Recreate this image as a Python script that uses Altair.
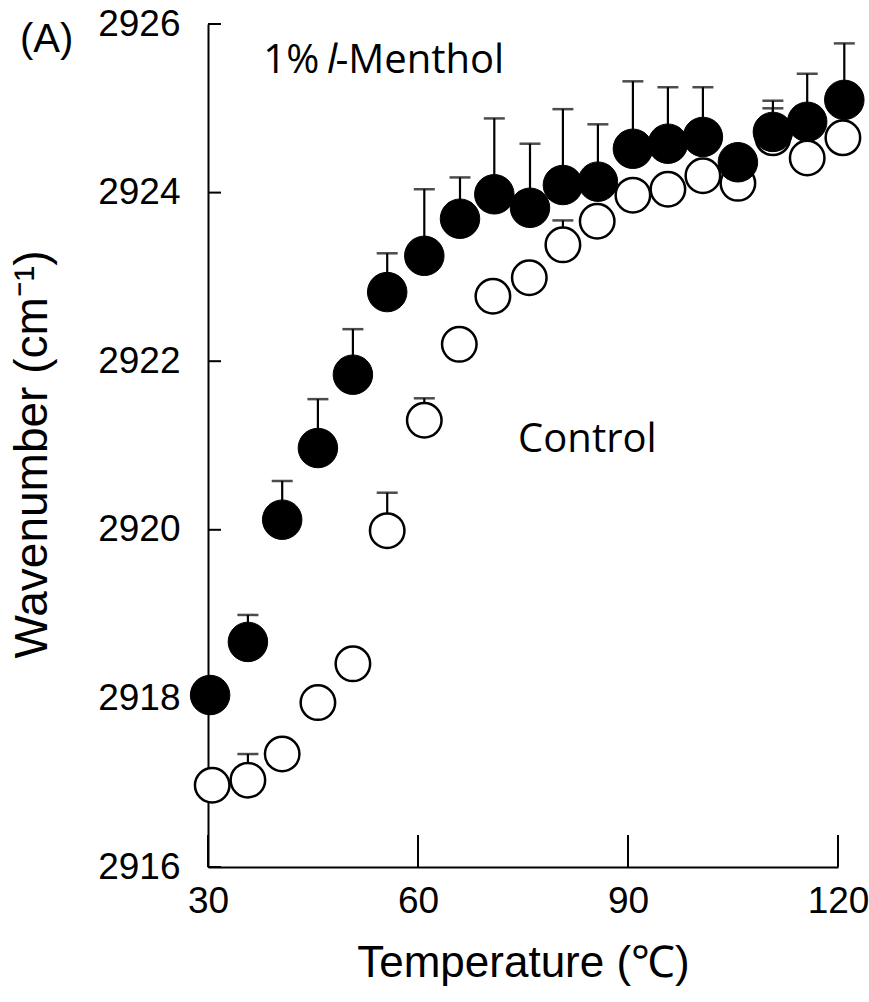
import altair as alt
import pandas as pd

# ---- data ----
temp_menthol = [30.3, 35.7, 40.6, 45.7, 50.7, 55.6, 60.9, 66.0, 70.9, 76.0,
                80.7, 85.7, 90.7, 95.7, 100.7, 105.7, 110.7, 115.6, 120.9]
menthol = [2918.04, 2918.67, 2920.12, 2920.97, 2921.84, 2922.82, 2923.25, 2923.69,
           2923.98, 2923.82, 2924.09, 2924.13, 2924.52, 2924.58, 2924.66, 2924.36,
           2924.72, 2924.84, 2925.10]
menthol_sd = [0.12, 0.32, 0.46, 0.58, 0.54, 0.46, 0.79, 0.49, 0.90, 0.76,
              0.90, 0.68, 0.80, 0.67, 0.59, 0.12, 0.37, 0.57, 0.67]

temp_control = [30.6, 35.7, 40.6, 45.7, 50.7, 55.6, 60.9, 65.9, 70.7, 75.9,
                80.7, 85.6, 90.7, 95.7, 100.7, 105.7, 110.7, 115.6, 120.7]
control = [2916.97, 2917.03, 2917.34, 2917.95, 2918.41, 2919.99, 2921.30, 2922.20,
           2922.77, 2922.99, 2923.38, 2923.66, 2923.97, 2924.04, 2924.20, 2924.11,
           2924.65, 2924.41, 2924.65]
control_sd = [0.10, 0.31, 0.10, 0.10, 0.10, 0.45, 0.26, 0.10, 0.10, 0.10,
              0.29, 0.10, 0.10, 0.10, 0.10, 0.10, 0.35, 0.10, 0.10]

x_ticks = [30, 60, 90, 120]
y_ticks = [2916, 2918, 2920, 2922, 2924, 2926]

ann_normal_text = ["1%", "-Menthol", "Control"]
ann_normal_T = [37.9, 48.2, 74.3]
ann_normal_v = [2925.42, 2925.42, 2920.92]
ann_italic_text = ["l"]
ann_italic_T = [47.0]
ann_italic_v = [2925.42]
panel_label = ["(A)"]

W, H = 630, 843

df_m = pd.DataFrame({"T": temp_menthol, "v": menthol,
                     "top": [a + b for a, b in zip(menthol, menthol_sd)]})
df_c = pd.DataFrame({"T": temp_control, "v": control,
                     "top": [a + b for a, b in zip(control, control_sd)]})
df_xt = pd.DataFrame({"T": x_ticks})
df_yt = pd.DataFrame({"v": y_ticks})
df_an = pd.DataFrame({"T": ann_normal_T, "v": ann_normal_v, "t": ann_normal_text})
df_ai = pd.DataFrame({"T": ann_italic_T, "v": ann_italic_v, "t": ann_italic_text})
df_pl = pd.DataFrame({"t": panel_label})

xs = alt.Scale(domain=[30, 120], nice=False, zero=False)
ys = alt.Scale(domain=[2916, 2926], nice=False, zero=False)

FONT = "Liberation Sans"

x_axis = alt.Axis(values=x_ticks, ticks=False, grid=False, labelFont=FONT,
                  labelFontSize=37, labelPadding=16, labelColor="black",
                  labelFlush=False, format="d",
                  title="Temperature (℃)", titleFont=FONT, titleFontSize=44,
                  titleFontWeight="normal", titleColor="black", titlePadding=22,
                  domainColor="black", domainWidth=2)
y_axis = alt.Axis(values=y_ticks, ticks=False, grid=False, labelFont=FONT,
                  labelFontSize=37, labelPadding=28, labelColor="black",
                  labelFlush=False, format="d",
                  title="Wavenumber (cm⁻¹)", titleFont=FONT, titleFontSize=46,
                  titleFontWeight="normal", titleColor="black",
                  titleX=-152, titleY=430, titleAngle=-90,
                  domainColor="black", domainWidth=2)


def X(field):
    return alt.X(field, type="quantitative", scale=xs, axis=x_axis)


def Y(field):
    return alt.Y(field, type="quantitative", scale=ys, axis=y_axis)


def err_layers(df):
    rule = alt.Chart(df).mark_rule(color="black", strokeWidth=2.2).encode(
        x=X("T"), y=Y("v"), y2="top:Q",
    )
    cap = alt.Chart(df).mark_tick(color="black", thickness=2.5, size=21,
                                  orient="horizontal").encode(
        x=X("T"), y=Y("top"),
    )
    return rule + cap


open_pts = alt.Chart(df_c).mark_point(shape="circle", filled=True, fill="white",
                                      stroke="black", strokeWidth=2.5, size=1190,
                                      opacity=1).encode(x=X("T"), y=Y("v"))
filled_pts = alt.Chart(df_m).mark_point(shape="circle", filled=True, fill="black",
                                        stroke="black", strokeWidth=1, size=1560,
                                        opacity=1).encode(x=X("T"), y=Y("v"))

xticks = alt.Chart(df_xt).mark_rule(color="black", strokeWidth=2).encode(
    x=X("T"), y=alt.value(H), y2=alt.value(H - 32),
)
yticks = alt.Chart(df_yt).mark_rule(color="black", strokeWidth=2).encode(
    y=Y("v"), x=alt.value(0), x2=alt.value(13),
)

ann_n = alt.Chart(df_an).mark_text(font="Open Sans", fontSize=40, align="left",
                                   baseline="alphabetic", color="black").encode(
    x=X("T"), y=Y("v"), text="t:N",
)
ann_i = alt.Chart(df_ai).mark_text(font="Open Sans", fontSize=40, align="left",
                                   baseline="alphabetic", fontStyle="italic",
                                   color="black").encode(
    x=X("T"), y=Y("v"), text="t:N",
)
panel = alt.Chart(df_pl).mark_text(font=FONT, fontSize=40, align="left",
                                   baseline="alphabetic", color="black").encode(
    x=alt.value(-188), y=alt.value(28), text="t:N",
)

chart = alt.layer(
    xticks, yticks,
    err_layers(df_c), open_pts,
    err_layers(df_m), filled_pts,
    ann_n, ann_i, panel,
).properties(
    width=W, height=H,
    autosize=alt.AutoSizeParams(type="none"),
    padding={"left": 208, "top": 24, "right": 31, "bottom": 135},
).configure(background="white").configure_view(stroke=None)

chart.save("out.html", embed_options={"renderer": "svg", "actions": False})
